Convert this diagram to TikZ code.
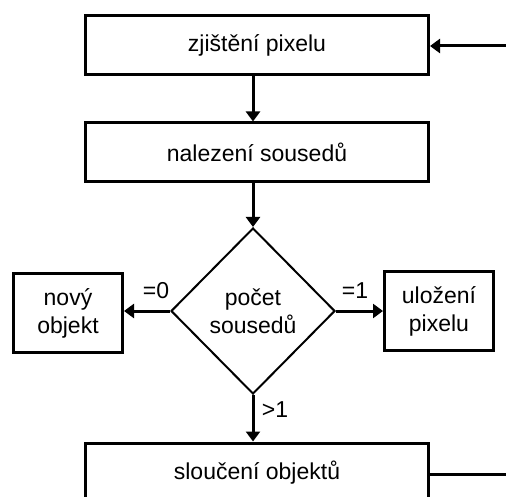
\documentclass[tikz,border=0pt]{standalone}
\usepackage{fontspec}
\setmainfont{Liberation Sans}
\usetikzlibrary{shapes.geometric,arrows.meta}
\begin{document}
\begin{tikzpicture}[x=1pt,y=-1pt,
  box/.style={draw,line width=3pt,minimum width=343pt,minimum height=59pt,inner sep=0pt,font=\fontsize{23}{27}\selectfont},
  smallbox/.style={draw,line width=3pt,minimum width=109pt,minimum height=79pt,inner sep=0pt,align=center,font=\fontsize{23}{28}\selectfont},
  decision/.style={draw,diamond,line width=2pt,minimum width=164pt,minimum height=166pt,inner sep=0pt,align=center,font=\fontsize{23}{28}\selectfont},
  lbl/.style={font=\fontsize{23}{27}\selectfont,inner sep=0pt},
  arr/.style={line width=3pt,-{Triangle[width=14pt,length=10pt]}},
  ln/.style={line width=3pt}]
\clip (0,0) rectangle (506,497);
\useasboundingbox (0,0) rectangle (506,497);
\node[box] (b1) at (257,45.5) {zji\v{s}t\v{e}n\'{\i} pixelu};
\node[box] (b2) at (257,152.5) {nalezen\'{\i} soused\r{u}};
\node[decision] (d) at (253,311) {po\v{c}et\\soused\r{u}};
\node[smallbox] (nl) at (68,313) {nov\'y\\objekt};
\node[smallbox] (nr) at (439,311) {ulo\v{z}en\'{\i}\\pixelu};
\node[box] (b3) at (257,472.5) {slou\v{c}en\'{\i} objekt\r{u}};
\coordinate (inR) at (506,46);
\coordinate (outR) at (506,474);
\draw[arr] (inR) -- (b1.east |- inR);
\draw[arr] (b1.south -| d.north) -- (b2.north -| d.north);
\draw[arr] (b2.south -| d.north) -- (d.north);
\draw[arr] (d.west) -- (nl.east |- d.west);
\draw[arr] (d.east) -- (nr.west |- d.east);
\draw[arr] (d.south) -- (b3.north -| d.south);
\draw[ln] (b3.east |- outR) -- (outR);
\node[lbl] (l0) at (156,291) {=0};
\node[lbl] (l1) at (355,291) {=1};
\node[lbl] (l2) at (275,410) {>1};
\end{tikzpicture}
\end{document}
